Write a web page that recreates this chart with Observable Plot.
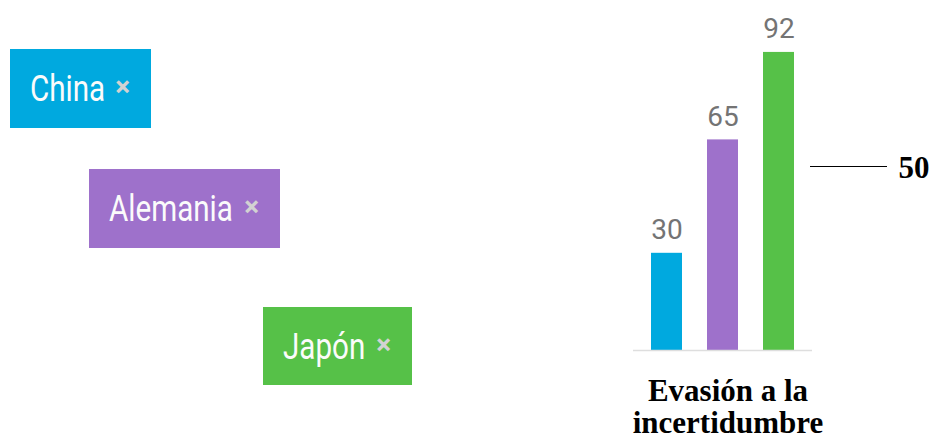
<!DOCTYPE html>
<html><head><meta charset="utf-8">
<script src="https://cdn.jsdelivr.net/npm/d3@7"></script>
<script src="https://cdn.jsdelivr.net/npm/@observablehq/plot@0.6"></script>
<style>
body{margin:0;background:#fff;}
#root{position:relative;width:930px;height:439px;overflow:hidden;background:#fff;}
.tag{position:absolute;}
.tag .lbl{position:absolute;left:20px;top:21px;font:400 37px/37px Roboto,sans-serif;color:#fbfbfb;transform:scaleX(0.8);transform-origin:0 0;white-space:nowrap;}
.tag .x{position:absolute;right:21px;top:24px;font:700 28px/28px Roboto,sans-serif;color:#d2d2d2;}
.plotbox{position:absolute;top:0;}
#title{position:absolute;left:620px;top:375px;width:216px;text-align:center;font:700 31px/32px "Liberation Serif","Times New Roman",serif;color:#000;}
</style>
</head><body>
<div id="root"></div>
<script>
// ---- data ----
const countries = ["China", "Alemania", "Japón"];
const values = [30, 65, 92];
const refValue = 50;
const titleText = "Evasión a la incertidumbre";
// ---- styles ----
const colors = ["#00a9df", "#9e71cb", "#56c148"];
const tagLayout = [
  {left: 10, top: 49, width: 141, height: 79},
  {left: 89, top: 169, width: 191, height: 79},
  {left: 263, top: 307, width: 149, height: 78}
];

const root = document.getElementById("root");
const data = countries.map((name, i) => ({name, value: values[i]}));

// tags (legend)
countries.forEach((name, i) => {
  const L = tagLayout[i];
  const t = document.createElement("div");
  t.className = "tag";
  Object.assign(t.style, {left: L.left + "px", top: L.top + "px", width: L.width + "px", height: L.height + "px", background: colors[i]});
  const s = document.createElement("span"); s.className = "lbl"; s.textContent = name;
  const x = document.createElement("span"); x.className = "x"; x.textContent = "×";
  t.appendChild(s); t.appendChild(x);
  root.appendChild(t);
});

// bar chart
const bars = Plot.plot({
  width: 310, height: 360,
  marginLeft: 13, marginRight: 118, marginTop: 26, marginBottom: 10,
  style: {background: "transparent"},
  x: {domain: countries, paddingInner: 0.45, paddingOuter: 0.3, axis: null},
  y: {domain: [0, 100], axis: null},
  color: {domain: countries, range: colors},
  marks: [
    Plot.barY(data, {x: "name", y: "value", fill: "name"}),
    Plot.ruleY([0], {stroke: "#dedede", strokeWidth: 1.5}),
    Plot.text(data, {x: "name", y: "value", text: d => String(d.value), lineAnchor: "bottom", dy: -14,
      fill: "#747474", fontSize: 28, fontFamily: "Roboto", fontWeight: 400})
  ]
});
const b1 = document.createElement("div"); b1.className = "plotbox"; b1.style.left = "620px";
b1.appendChild(bars); root.appendChild(b1);

// reference annotation (same y scale)
const ref = Plot.plot({
  width: 130, height: 360,
  marginLeft: 10, marginRight: 43, marginTop: 26, marginBottom: 10,
  style: {background: "transparent"},
  y: {domain: [0, 100], axis: null},
  marks: [
    Plot.ruleY([refValue], {dy: -22, stroke: "#000", strokeWidth: 1.2}),
    Plot.text([refValue], {y: d => d, text: d => String(d), frameAnchor: "right", textAnchor: "start",
      dx: 11, dy: -20, fontSize: 31, fontWeight: "bold", fontFamily: "Liberation Serif", fill: "#000"})
  ]
});
const b2 = document.createElement("div"); b2.className = "plotbox"; b2.style.left = "800px";
b2.appendChild(ref); root.appendChild(b2);

// title
const ti = document.createElement("div"); ti.id = "title";
ti.innerHTML = "Evasión a la<br>incertidumbre";
ti.setAttribute("aria-label", titleText);
root.appendChild(ti);
</script>
</body></html>
